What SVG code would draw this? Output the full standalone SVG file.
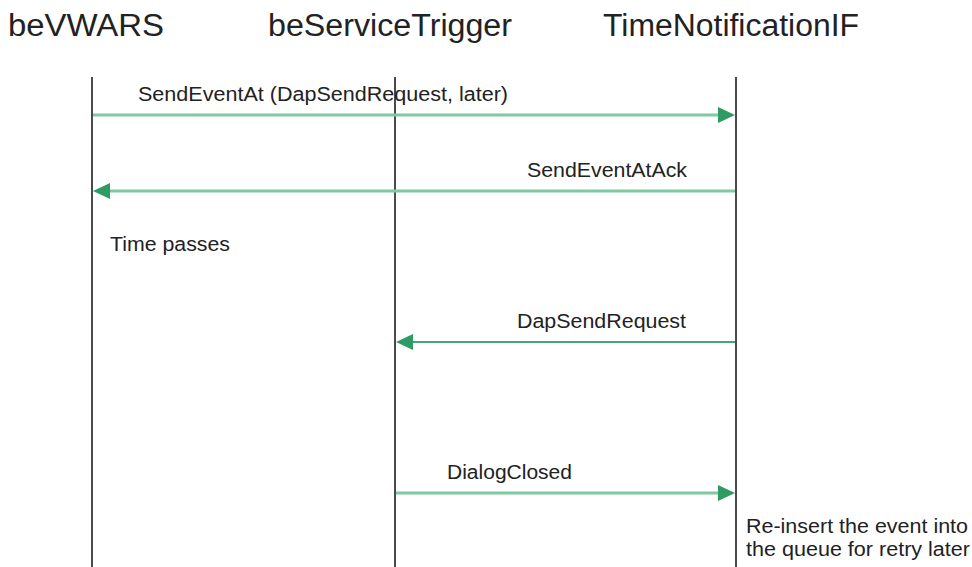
<svg xmlns="http://www.w3.org/2000/svg" width="972" height="567" viewBox="0 0 972 567">
<defs>
<style>
.t{font-family:"Liberation Sans",Arial,sans-serif;fill:#222}
.h{font-size:31px}
.m{font-size:20px}
.life{stroke:#4a4a4a;stroke-width:2;fill:none}
.msg{stroke:#7ccaa2;stroke-width:3;fill:none}
.msg2{stroke:#3fa874;stroke-width:2;fill:none}
.head{fill:#2e9b62}
</style>
</defs>
<rect width="972" height="567" fill="#fff"/>
<g id="beVWARS">
<text class="t h" x="8" y="36" textLength="156" lengthAdjust="spacingAndGlyphs">beVWARS</text>
<line class="life" x1="92" y1="77" x2="92" y2="567"/>
</g>
<g id="beServiceTrigger">
<text class="t h" x="268" y="36" textLength="244" lengthAdjust="spacingAndGlyphs">beServiceTrigger</text>
<line class="life" x1="395" y1="77" x2="395" y2="567"/>
</g>
<g id="TimeNotificationIF">
<text class="t h" x="603" y="36" textLength="256" lengthAdjust="spacingAndGlyphs">TimeNotificationIF</text>
<line class="life" x1="736" y1="77" x2="736" y2="567"/>
</g>
<g id="connectors">
<g id="m1">
<line class="msg" x1="93" y1="115" x2="720" y2="115"/>
<polygon class="head" points="735,115 718,107 718,123"/>
<text class="t m" x="138" y="101" textLength="370" lengthAdjust="spacingAndGlyphs">SendEventAt (DapSendRequest, later)</text>
</g>
<g id="m2">
<line class="msg" x1="735" y1="191" x2="108" y2="191"/>
<polygon class="head" points="93,191 110,183 110,199"/>
<text class="t m" x="527" y="177" textLength="160" lengthAdjust="spacingAndGlyphs">SendEventAtAck</text>
</g>
<g id="m3">
<line class="msg2" x1="735" y1="342" x2="410" y2="342"/>
<polygon class="head" points="396,342 413,334 413,350"/>
<text class="t m" x="517" y="328" textLength="169" lengthAdjust="spacingAndGlyphs">DapSendRequest</text>
</g>
<g id="m4">
<line class="msg" x1="396" y1="493" x2="720" y2="493"/>
<polygon class="head" points="735,493 718,485 718,501"/>
<text class="t m" x="447" y="479" textLength="125" lengthAdjust="spacingAndGlyphs">DialogClosed</text>
</g>
</g>
<g id="notes">
<text class="t m" x="110" y="251" textLength="120" lengthAdjust="spacingAndGlyphs">Time passes</text>
<text class="t m" x="746" y="533" textLength="222" lengthAdjust="spacingAndGlyphs">Re-insert the event into</text>
<text class="t m" x="746" y="556" textLength="224" lengthAdjust="spacingAndGlyphs">the queue for retry later</text>
</g>
</svg>
